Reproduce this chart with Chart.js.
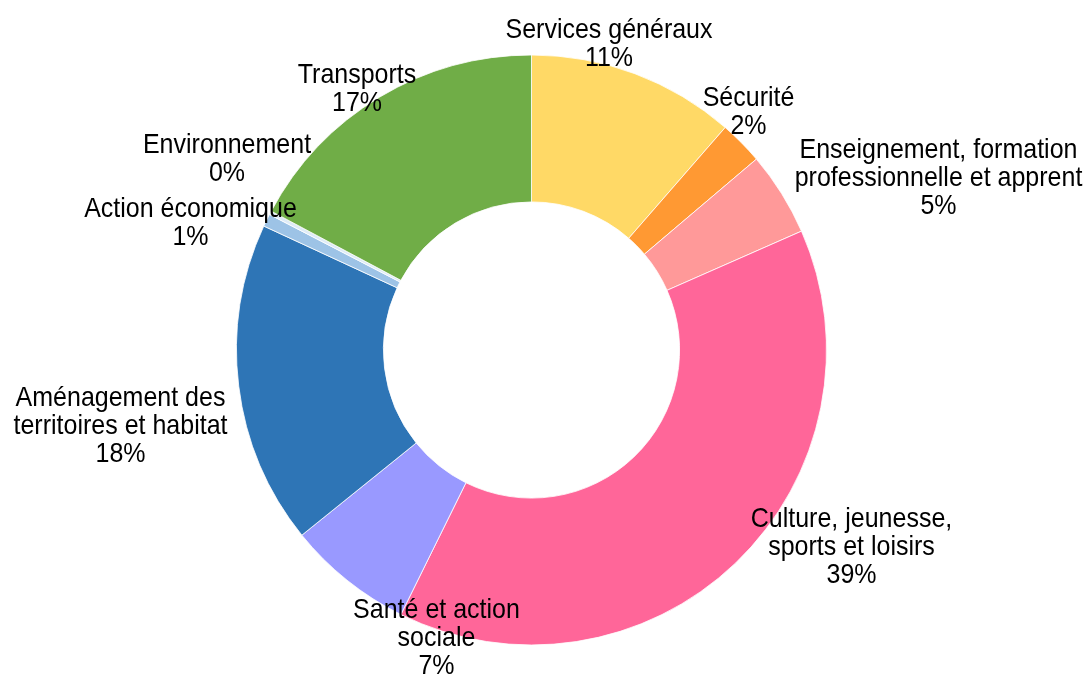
<!DOCTYPE html>
<html>
<head>
<meta charset="utf-8">
<script src="https://cdn.jsdelivr.net/npm/chart.js@4/dist/chart.umd.min.js"></script>
<style>
  html, body { margin: 0; padding: 0; background: #ffffff; }
  #wrap { width: 1087px; height: 676px; position: relative; }
</style>
</head>
<body>
<div id="wrap"><canvas id="c" width="1087" height="676"></canvas></div>
<script>
// ---- data ----
const categories = [
  ["Services généraux"],
  ["Sécurité"],
  ["Enseignement, formation", "professionnelle et apprent"],
  ["Culture, jeunesse,", "sports et loisirs"],
  ["Santé et action", "sociale"],
  ["Aménagement des", "territoires et habitat"],
  ["Action économique"],
  ["Environnement"],
  ["Transports"]
];
const shares = [11.4, 2.4, 4.6, 38.9, 6.9, 17.7, 0.7, 0.2, 17.2];
const sliceColors = ["#FFD966", "#FF9933", "#FF9999", "#FF6699", "#9999FF", "#2E75B6", "#9DC3E6", "#DEEBF7", "#70AD47"];

// ---- label layout (offset of the label block from the doughnut centre, px) ----
const labelOffsets = [
  [77.5, -312], [217, -244], [407, -192], [320, 177], [-95, 268],
  [-411, 56], [-341, -133], [-304.5, -197], [-174.5, -267]
];

const labelPlugin = {
  id: 'sliceLabels',
  afterDatasetsDraw(chart) {
    const ctx = chart.ctx;
    const meta = chart.getDatasetMeta(0);
    const total = shares.reduce((a, b) => a + b, 0);
    ctx.save();
    ctx.font = '25px "Liberation Sans", Arial, sans-serif';
    ctx.fillStyle = '#000000';
    ctx.textAlign = 'center';
    ctx.textBaseline = 'alphabetic';
    meta.data.forEach((arc, i) => {
      const lines = categories[i].concat([Math.round(shares[i] / total * 100) + '%']);
      const x = arc.x + labelOffsets[i][0];
      let y = arc.y + labelOffsets[i][1];
      lines.forEach((t, k) => {
        ctx.save();
        ctx.translate(x, y + k * 28);
        ctx.scale(1, 1.12);
        ctx.fillText(t, 0, 0);
        ctx.restore();
      });
    });
    ctx.restore();
  }
};

new Chart(document.getElementById('c'), {
  type: 'doughnut',
  data: {
    labels: categories,
    datasets: [{
      data: shares,
      backgroundColor: sliceColors,
      borderColor: '#ffffff',
      borderWidth: 0.8
    }]
  },
  options: {
    responsive: false,
    animation: false,
    cutout: '50.2%',
    layout: { padding: { left: 236, right: 260, top: 54.6, bottom: 30.6 } },
    plugins: { legend: { display: false }, tooltip: { enabled: false } }
  },
  plugins: [labelPlugin]
});
</script>
</body>
</html>
